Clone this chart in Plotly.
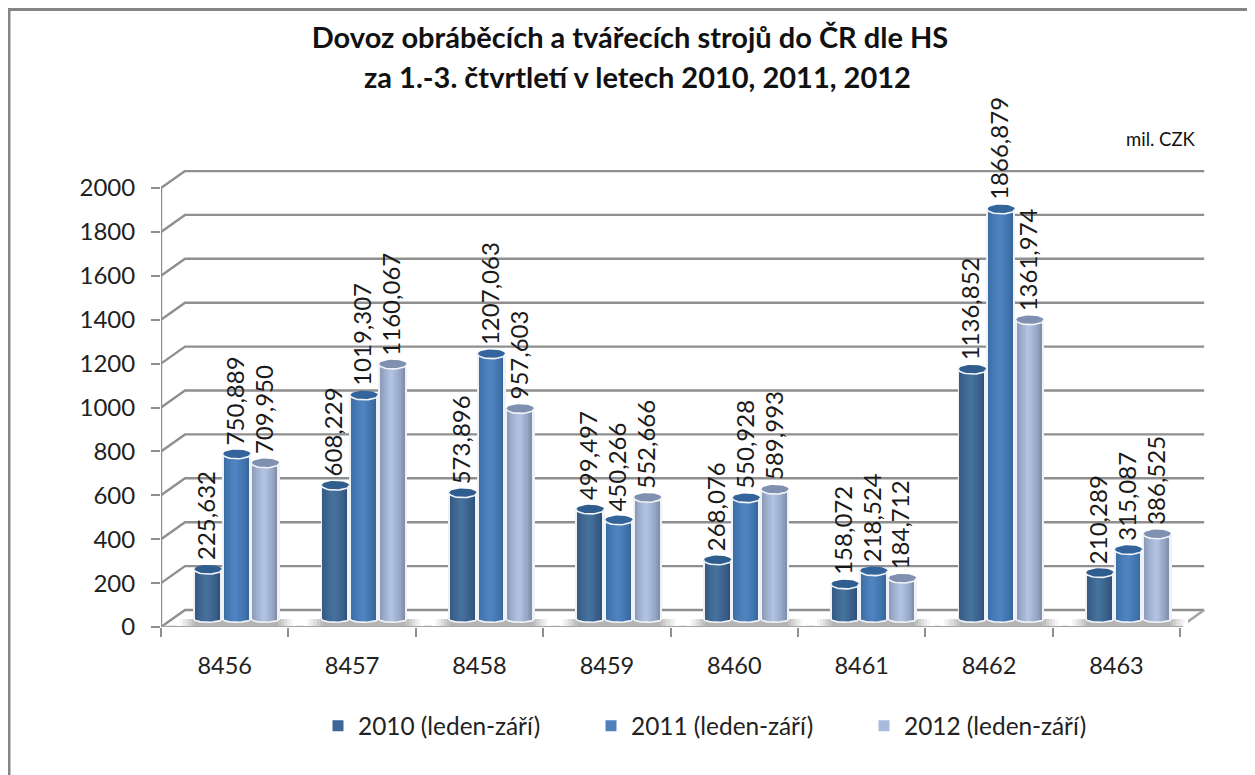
import numpy as np
import plotly.graph_objects as go

categories = ["8456", "8457", "8458", "8459", "8460", "8461", "8462", "8463"]
values_2010 = [225.632, 608.229, 573.896, 499.497, 268.076, 158.072, 1136.852, 210.289]
values_2011 = [750.889, 1019.307, 1207.063, 450.266, 550.928, 218.524, 1866.879, 315.087]
values_2012 = [709.950, 1160.067, 957.603, 552.666, 589.993, 184.712, 1361.974, 386.525]
series_names = ["2010 (leden-září)", "2011 (leden-září)", "2012 (leden-září)"]
y_ticks = [0, 200, 400, 600, 800, 1000, 1200, 1400, 1600, 1800, 2000]

FONT = "Lato"
PAGE = 8                                # the page's own margin round the figure
W, H = 1255 - PAGE, 775 - PAGE
L, T, R, B = 161, 170, 1205, 627        # plot box in page pixels
PX_X = 127.4                            # pixels per category
PX_Y = 0.2195                           # pixels per value unit
DX, DY = 24 / PX_X, 17 / PX_Y           # depth of the 3D wall
NCAT = len(categories)
CYL_W = 28.7 / PX_X
RY = 4.6 / PX_Y
BASE = 8 / PX_Y
SHIFT = 12 / PX_X
N = 15
GRID = "#8f8f8f"

styles = [
    dict(edge="#2b4c74", mid="#47739f", top="#2f5d8e", leg="#3c6696"),
    dict(edge="#336397", mid="#5085c2", top="#33659c", leg="#4f81bd"),
    dict(edge="#76859f", mid="#b3c5e5", top="#7f90b0", leg="#a9bbdc"),
]
series = [values_2010, values_2011, values_2012]


def rgb(h):
    return np.array([int(h[i:i + 2], 16) for i in (1, 3, 5)], float)


def mix(a, b, t):
    c = rgb(a) * (1 - t) + rgb(b) * t
    return "rgb(%d,%d,%d)" % tuple(c)


fig = go.Figure()

# soft floor shadow: solid strips painted from the outside in, so no seams show
sx, sy, sb, sw, sc = [], [], [], [], []
SHADOW = 0.47
for i in range(NCAT):
    cx = i + 0.5 + SHIFT
    for u in np.linspace(1, 0.02, 20):
        sx.append(cx)
        sy.append(BASE * 0.92)
        sb.append(0.8 / PX_Y)
        sw.append(2 * SHADOW * u)
        a = min(1, (1 - u) / 0.30) ** 1.2
        sc.append(mix("#ffffff", "#b4b4b4", a))
fig.add_trace(go.Bar(x=sx, y=sy, base=sb, width=sw, marker=dict(color=sc, line_width=0),
                     showlegend=False, hoverinfo="skip"))

ell_t = np.linspace(0, 2 * np.pi, 41)
low_t = np.linspace(np.pi, 2 * np.pi, 21)

for k, vals in enumerate(series):
    st = styles[k]
    xs, ys, bs, ws, cs = [], [], [], [], []
    ex, ey, rx_, ry_ = [], [], [], []
    for i, v in enumerate(vals):
        cx = i + 0.5 + SHIFT + (k - 1) * CYL_W
        for j in range(N):
            u = -1 + (j + 0.5) * 2 / N
            if j == 0 or j == N - 1:
                col = "#eef1f6"
            else:
                col = mix(st["edge"], st["mid"], max(0, 1 - abs(u + 0.08) / 0.95) ** 0.65)
            bottom = BASE - RY * 0.7 * np.sqrt(max(0, 1 - u * u))
            xs.append(cx + u * CYL_W / 2)
            ws.append(CYL_W / N)
            bs.append(bottom)
            ys.append(v + BASE - bottom)
            cs.append(col)
        a = CYL_W / 2 * 0.97
        ex += list(cx + a * np.cos(ell_t)) + [None]
        ey += list(v + BASE + RY * np.sin(ell_t)) + [None]
        rx_ += list(cx + a * np.cos(low_t)) + [None]
        ry_ += list(v + BASE + RY * np.sin(low_t)) + [None]
        rx_ += list(cx + a * np.cos(low_t)) + [None]
        ry_ += list(BASE + RY * 0.7 * np.sin(low_t)) + [None]
    fig.add_trace(go.Bar(x=xs, y=ys, base=bs, width=ws, marker=dict(color=cs, line_width=0),
                         showlegend=False, hoverinfo="skip"))
    fig.add_trace(go.Scatter(x=ex, y=ey, mode="lines", fill="toself", fillcolor=st["top"],
                             line=dict(width=0, color=st["top"]), showlegend=False, hoverinfo="skip"))
    fig.add_trace(go.Scatter(x=rx_, y=ry_, mode="lines", line=dict(width=1.6, color="#f2f4f8"),
                             showlegend=False, hoverinfo="skip"))

for k, name in enumerate(series_names):
    fig.add_trace(go.Scatter(x=[None], y=[None], mode="markers", name=name,
                             marker=dict(symbol="square", size=11, color=styles[k]["leg"])))

# data labels
annotations = []
for k, vals in enumerate(series):
    for i, v in enumerate(vals):
        annotations.append(dict(
            x=i + 0.5 + SHIFT + (k - 1) * CYL_W - 2 / PX_X, y=v + BASE, xref="x", yref="y",
            text=("%.3f" % v).replace(".", ","), textangle=-90, showarrow=False,
            xanchor="center", yanchor="bottom", yshift=7,
            font=dict(family=FONT, size=24, color="#1a1a1a"),
        ))


def px(x):
    return (x - L) / (R - L)


def py(y):
    return (B - y) / (B - T)


annotations.append(dict(xref="paper", yref="paper", x=px(637), y=py(76),
                        text="<b>za 1.-3. čtvrtletí v letech 2010, 2011, 2012</b>",
                        showarrow=False, xanchor="center", yanchor="middle",
                        font=dict(family=FONT, size=29, color="#111111")))
annotations.append(dict(xref="paper", yref="paper", x=px(1198), y=py(139), text="mil. CZK",
                        showarrow=False, xanchor="right", yanchor="middle",
                        font=dict(family=FONT, size=18.5, color="#111111")))

# walls, grid and axis lines below the bars
shapes = []
for t in y_ticks:
    shapes.append(dict(type="path", layer="below", xref="x", yref="y",
                       path=f"M 0 {t} L {DX} {t + DY} L {NCAT + DX} {t + DY}",
                       line=dict(color=GRID, width=2.4)))
shapes.append(dict(type="path", layer="below", xref="x", yref="y",
                   path=f"M {NCAT + DX} {DY} L {NCAT} 0 L 0 0",
                   line=dict(color="#a5a5a5", width=2.6)))
shapes.append(dict(type="line", layer="below", xref="x", yref="y", x0=0, x1=0, y0=0, y1=2000,
                   line=dict(color=GRID, width=2.4)))
# outer frame
shapes.append(dict(type="line", layer="above", xref="paper", yref="paper", x0=px(9), x1=px(9), y0=py(9), y1=py(775),
                   line=dict(color="#858585", width=3)))
shapes.append(dict(type="line", layer="above", xref="paper", yref="paper", x0=px(8), x1=px(1255), y0=py(9.5), y1=py(9.5),
                   line=dict(color="#858585", width=3)))

fig.update_layout(
    width=W, height=H,
    margin=dict(l=L - PAGE, r=W + PAGE - R, t=T - PAGE, b=H + PAGE - B, autoexpand=False),
    paper_bgcolor="white", plot_bgcolor="white",
    barmode="overlay", bargap=0,
    font=dict(family=FONT, color="#222222"),
    title=dict(text="<b>Dovoz obráběcích a tvářecích strojů do ČR dle HS</b>", x=(630 - PAGE) / W, xanchor="center",
               y=1 - (38 - PAGE) / H, yanchor="middle", font=dict(family=FONT, size=29, color="#111111")),
    xaxis=dict(range=[0, (R - L) / PX_X], tickmode="array",
               tickvals=[i + 0.5 for i in range(NCAT)], ticktext=categories,
               ticks="", showgrid=False, zeroline=False, showline=False,
               tickfont=dict(family=FONT, size=23.5, color="#222222"), ticklabelstandoff=22,
               minor=dict(tickmode="array", tickvals=list(range(NCAT + 1)), ticks="outside",
                          ticklen=9, tickwidth=2.4, tickcolor=GRID, showgrid=False)),
    yaxis=dict(range=[0, (B - T) / PX_Y], tickmode="array", tickvals=y_ticks,
               ticks="outside", ticklen=9, tickwidth=2.4, tickcolor=GRID,
               showgrid=False, zeroline=False, showline=False,
               tickfont=dict(family=FONT, size=24, color="#222222"), ticklabelstandoff=11),
    legend=dict(orientation="h", x=px(318), y=py(726), xanchor="left", yanchor="middle",
                entrywidth=228, entrywidthmode="pixels", traceorder="normal",
                itemwidth=30, font=dict(family=FONT, size=24.4, color="#222222"),
                bgcolor="rgba(0,0,0,0)"),
    annotations=annotations, shapes=shapes,
)

fig.write_html("out.html")
